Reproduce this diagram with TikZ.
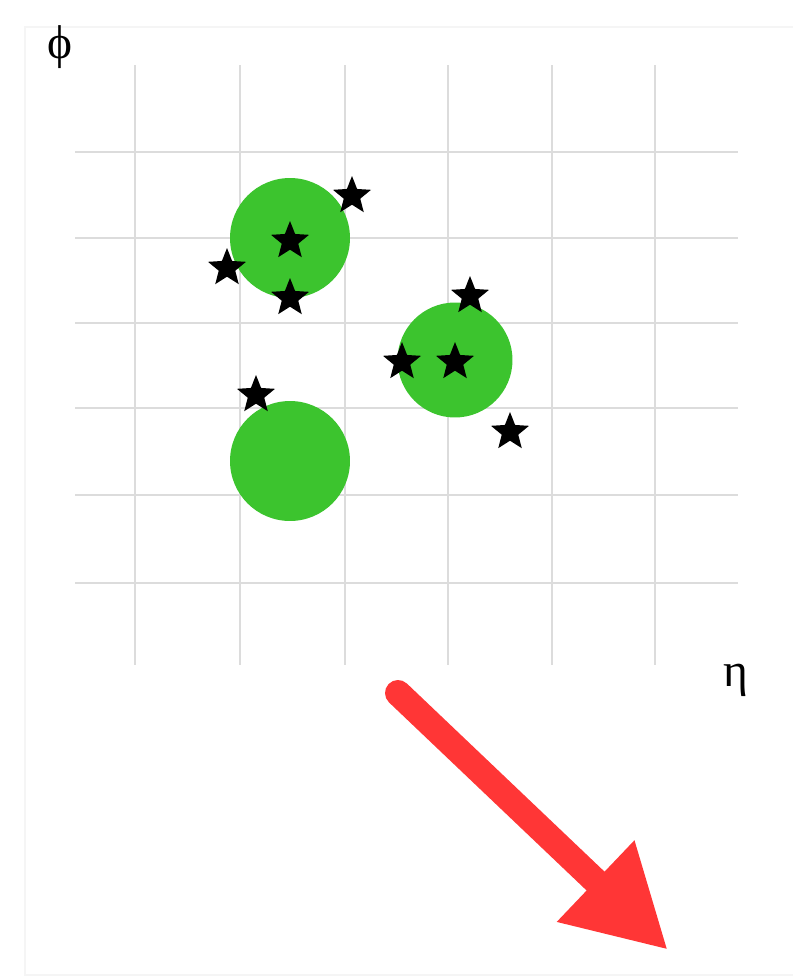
\documentclass[tikz,border=0pt]{standalone}
\usepackage{fontspec}
\newfontfamily\greekfont{Liberation Serif}
\definecolor{jetGreen}{HTML}{3CC42E}
\definecolor{jetRed}{HTML}{FF3636}
\definecolor{gridGray}{HTML}{DCDCDC}
\usetikzlibrary{arrows.meta, shapes.geometric}

\begin{document}
\begin{tikzpicture}[
    x=0.02cm, y=-0.02cm,
    gridline/.style={gridGray, line width=1.4pt},
    jet/.style={circle, fill=jetGreen, inner sep=0pt},
    particle/.style={star, star points=5, star point ratio=2.3, fill=black, inner sep=0pt, minimum size=0.8cm},
    axislabel/.style={font=\greekfont\fontsize{27}{29}\selectfont, inner sep=0pt},
    bigarrow/.style={jetRed, line width=0.52cm, line cap=round, -{Triangle[length=2cm, width=2.1cm]}},
  ]
    \useasboundingbox (0,0) rectangle (793,977);

    % faint frame
    \draw[black!4, line width=0.6pt] (793,27) -- (25,27) -- (25,975) -- (793,975);

    % Grid
    \foreach \gx in {135,240,345,448,552,655}
      \draw[gridline] (\gx,65) -- (\gx,665);
    \foreach \gy in {152,238,323,408,495,583}
      \draw[gridline] (75,\gy) -- (738,\gy);

    % Axis labels
    \node[axislabel] (phi) at (60,47) {ϕ};
    \node[axislabel] (eta) at (736,680) {η};

    % Jets
    \node[jet, minimum size=2.4cm] (jetA) at (290,238) {};
    \node[jet, minimum size=2.3cm] (jetB) at (455,360) {};
    \node[jet, minimum size=2.4cm] (jetC) at (290,461) {};

    % Particles
    \node[particle] (p1) at (352,196) {};
    \node[particle] (p2) at (290,241) {};
    \node[particle] (p3) at (227,268) {};
    \node[particle] (p4) at (290,298) {};
    \node[particle] (p5) at (470,296) {};
    \node[particle] (p6) at (402,362) {};
    \node[particle] (p7) at (455,362) {};
    \node[particle] (p8) at (510,432) {};
    \node[particle] (p9) at (256,395) {};

    % Arrow
    \coordinate (arrowStart) at (398,693);
    \coordinate (arrowTip) at (668,950);
    \draw[bigarrow] (arrowStart) -- (arrowTip);
  \end{tikzpicture}
\end{document}
